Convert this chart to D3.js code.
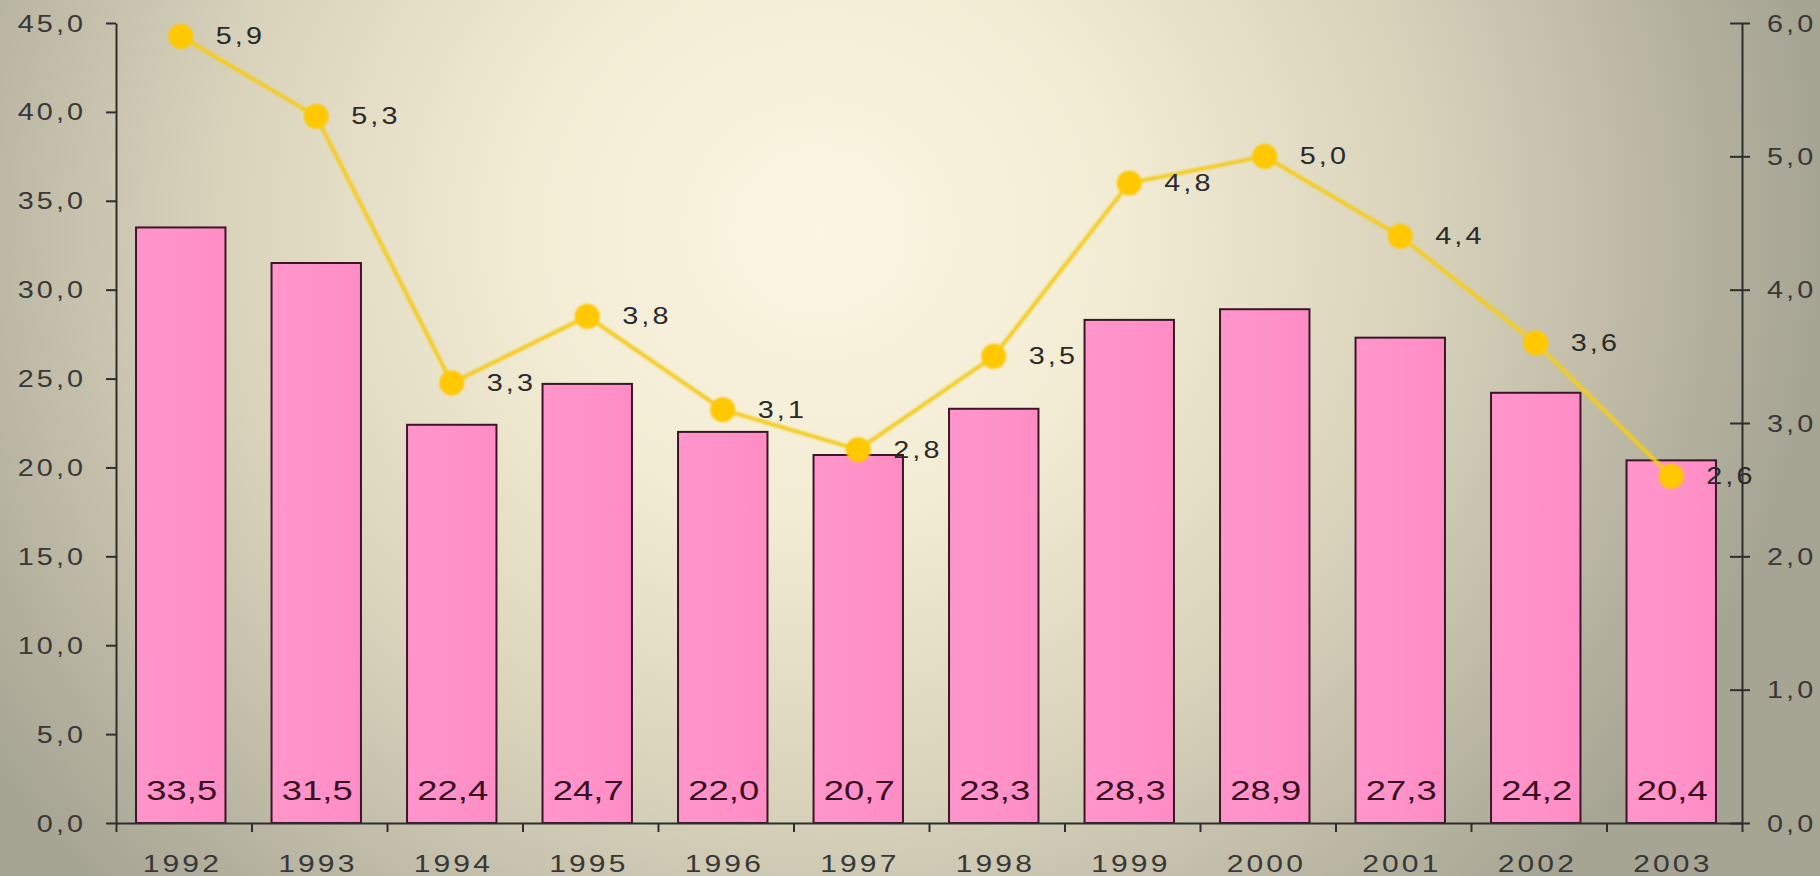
<!DOCTYPE html>
<html>
<head>
<meta charset="utf-8">
<script src="https://cdn.jsdelivr.net/npm/d3@7"></script>
<style>
  html, body { margin: 0; padding: 0; background: #c9c4ae; }
  svg { display: block; }
  text { font-family: "Liberation Sans", Arial, sans-serif; }
</style>
</head>
<body>
<svg id="chart" width="1820" height="876"></svg>
<script>
// ---- data ----
const years = ["1992","1993","1994","1995","1996","1997","1998","1999","2000","2001","2002","2003"];
const barValues = [33.5, 31.5, 22.4, 24.7, 22.0, 20.7, 23.3, 28.3, 28.9, 27.3, 24.2, 20.4];
const lineValues = [5.9, 5.3, 3.3, 3.8, 3.1, 2.8, 3.5, 4.8, 5.0, 4.4, 3.6, 2.6];
const leftTicks = [0, 5, 10, 15, 20, 25, 30, 35, 40, 45];
const rightTicks = [0, 1, 2, 3, 4, 5, 6];

// ---- layout ----
const W = 1820, H = 876;
const x0 = 116, x1 = 1742, yTop = 23, yBottom = 823;
const shift = -3;          // bars/points sit slightly left of band centre
const SX = 1.25;           // horizontal stretch of the text
const LS = 2.5;            // letter spacing of the text

const svg = d3.select("#chart");
const defs = svg.append("defs");

const bg = defs.append("radialGradient").attr("id", "bg")
  .attr("gradientUnits", "userSpaceOnUse")
  .attr("cx", 820).attr("cy", 230).attr("r", 1000)
  .attr("gradientTransform", "translate(820,230) scale(1,0.95) translate(-820,-230)");
[[0, "#fbf6e2"], [0.3, "#f3ecd5"], [0.6, "#d9d3bc"], [0.85, "#b8b5a2"], [1, "#a6a493"]]
  .forEach(([o, c]) => bg.append("stop").attr("offset", o).attr("stop-color", c));

const barGrad = defs.append("linearGradient").attr("id", "barGrad")
  .attr("x1", 0).attr("x2", 1).attr("y1", 0).attr("y2", 0);
[[0, "#ff95cb"], [0.5, "#ff92c9"], [1, "#fe8cc5"]]
  .forEach(([o, c]) => barGrad.append("stop").attr("offset", o).attr("stop-color", c));

const blur = defs.append("filter").attr("id", "soft")
  .attr("x", "-50%").attr("y", "-50%").attr("width", "200%").attr("height", "200%");
blur.append("feGaussianBlur").attr("stdDeviation", 1.1);

svg.append("rect").attr("width", W).attr("height", H).attr("fill", "url(#bg)");

// ---- scales ----
const x = d3.scaleBand().domain(years).range([x0, x1]).paddingInner(0.34).paddingOuter(0.17);
const xIdx = d3.scaleLinear().domain([0, years.length]).range([x0, x1]);
const yL = d3.scaleLinear().domain([0, 45]).range([yBottom, yTop]);
const yR = d3.scaleLinear().domain([0, 6]).range([yBottom, yTop]);
const fmt = v => d3.format(".1f")(v).replace(".", ",");

const stretch = sel => sel.attr("transform", `scale(${SX},1)`).attr("letter-spacing", LS);

// ---- bars ----
const marks = svg.append("g").attr("transform", `translate(${shift},0)`);
marks.selectAll("rect.bar").data(years).join("rect")
  .attr("class", "bar")
  .attr("x", d => x(d))
  .attr("width", x.bandwidth())
  .attr("y", (d, i) => yL(barValues[i]))
  .attr("height", (d, i) => yBottom - yL(barValues[i]))
  .attr("fill", "url(#barGrad)")
  .attr("stroke", "#3d1528")
  .attr("stroke-width", 2);

marks.selectAll("text.barlab").data(years).join("text")
  .attr("class", "barlab")
  .attr("transform", d => `translate(${x(d) + x.bandwidth() / 2 + 1},800) scale(1.3,1)`)
  .attr("text-anchor", "middle")
  .attr("font-size", 28)
  .attr("fill", "#3a0f22")
  .text((d, i) => fmt(barValues[i]));

// ---- axes ----
const gL = svg.append("g").attr("transform", `translate(${x0},0)`)
  .call(d3.axisLeft(yL).tickValues(leftTicks).tickFormat(fmt).tickSizeInner(10).tickSizeOuter(0));
const gR = svg.append("g").attr("transform", `translate(${x1},0)`)
  .call(d3.axisRight(yR).tickValues(rightTicks).tickFormat(fmt).tickSizeInner(8).tickSizeOuter(0));
gR.selectAll(".tick line").attr("x1", -12);
const gB = svg.append("g").attr("transform", `translate(0,${yBottom})`)
  .call(d3.axisBottom(xIdx).tickValues(d3.range(years.length + 1)).tickFormat("").tickSizeInner(9).tickSizeOuter(0));
const gY = svg.append("g").attr("transform", `translate(${shift},${yBottom})`)
  .call(d3.axisBottom(x).tickSize(0).tickPadding(0));
gY.select(".domain").remove();

[gL, gR, gB].forEach(g => {
  g.select(".domain").attr("stroke", "#2e2e2e").attr("stroke-width", 2);
  g.selectAll(".tick line").attr("stroke", "#2e2e2e").attr("stroke-width", 2);
});
gL.selectAll(".tick text").attr("x", (-33 + LS * SX) / SX).attr("dy", "0.35em")
  .attr("font-size", 23).attr("fill", "#383838").call(stretch);
gR.selectAll(".tick text").attr("x", 25 / SX).attr("dy", "0.35em")
  .attr("font-size", 23).attr("fill", "#383838").call(stretch);
gY.selectAll(".tick text").attr("y", 49).attr("dy", 0).attr("x", LS / 2)
  .attr("font-size", 24).attr("fill", "#383838").call(stretch);

// ---- line ----
const cx = (d, i) => x(d) + x.bandwidth() / 2;
const line = d3.line().x((d, i) => cx(years[i], i)).y(d => yR(d));
marks.append("path").datum(lineValues)
  .attr("d", line)
  .attr("fill", "none")
  .attr("stroke", "#f4cc22")
  .attr("stroke-width", 4)
  .attr("filter", "url(#soft)");
marks.selectAll("circle.pt").data(lineValues).join("circle")
  .attr("class", "pt")
  .attr("cx", (d, i) => cx(years[i], i))
  .attr("cy", d => yR(d))
  .attr("r", 12.5)
  .attr("fill", "#ffc805")
  .attr("filter", "url(#soft)");
marks.selectAll("text.ptlab").data(lineValues).join("text")
  .attr("class", "ptlab")
  .attr("transform", (d, i) => `translate(${cx(years[i], i) + 35},${yR(d)}) scale(${SX},1)`)
  .attr("letter-spacing", LS)
  .attr("dy", "0.35em")
  .attr("font-size", 23)
  .attr("fill", "#2a2a2a")
  .text(d => fmt(d));
</script>
</body>
</html>
